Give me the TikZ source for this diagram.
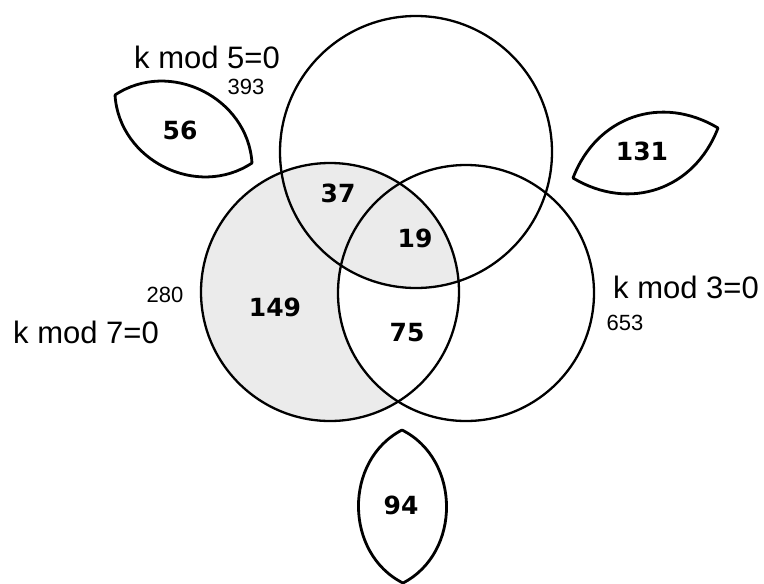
\documentclass[tikz,border=0pt]{standalone}
\usepackage{fontspec}
\setmainfont{Liberation Sans}
\newfontfamily\countfont{DejaVu Sans}

\definecolor{lightshade}{gray}{0.92}

% one unit is one point, y grows downwards
\tikzset{
  setcircle/.style={circle, draw, line width=2.3pt, inner sep=0pt},
  leaf/.style={draw, line width=2.8pt, line join=round, line cap=round},
  count/.style={font=\countfont\bfseries\fontsize{25}{25}\selectfont},
  setname/.style={font=\fontsize{31}{31}\selectfont},
  total/.style={font=\fontsize{22}{22}\selectfont},
}

\begin{document}
\begin{tikzpicture}[x=1pt, y=-1pt]
  \useasboundingbox (0,0) rectangle (764,584);

  \coordinate (c7) at (330,292);
  \coordinate (c5) at (416,152);
  \coordinate (c3) at (466,293);

  % shading: all of mod 7 except the part that is in mod 3 but not in mod 5
  \fill[lightshade] (c7) circle (129);
  \begin{scope}
    \clip (c3) circle (128);
    \fill[white] (c7) circle (129);
    \clip (c5) circle (136);
    \fill[lightshade] (c7) circle (129);
  \end{scope}

  % the three sets
  \node[setcircle, minimum size=258pt] (mod7) at (c7) {};
  \node[setcircle, minimum size=272pt] (mod5) at (c5) {};
  \node[setcircle, minimum size=256pt] (mod3) at (c3) {};

  % counts inside the circles
  \node[count] (n37)  at (338,193) {37};
  \node[count] (n19)  at (415,238) {19};
  \node[count] (n149) at (275,307) {149};
  \node[count] (n75)  at (407,333) {75};

  % the leaves outside: two tips each, the bend sets how fat the leaf is
  \coordinate (leaf56-a)  at (115,95);
  \coordinate (leaf56-b)  at (252,163);
  \coordinate (leaf131-a) at (573,178);
  \coordinate (leaf131-b) at (718,128);
  \coordinate (leaf94-a)  at (402,430);
  \coordinate (leaf94-b)  at (403,583);
  \foreach \t/\b in {56/60, 131/50, 94/63}
    \draw[leaf] (leaf\t-a) to[bend left=\b, looseness=1.1] (leaf\t-b)
                           to[bend left=\b, looseness=1.1] (leaf\t-a);

  \node[count] (n56)  at (180,130) {56};
  \node[count] (n131) at (642,151) {131};
  \node[count] (n94)  at (401,505) {94};

  % set names and their totals
  \node[setname] (name5) at (207,57)  {k mod 5=0};
  \node[total]   (tot5)  at (246,87)  {393};
  \node[setname] (name7) at (86,332)  {k mod 7=0};
  \node[total]   (tot7)  at (165,295) {280};
  \node[setname] (name3) at (686,287) {k mod 3=0};
  \node[total]   (tot3)  at (625,323) {653};
\end{tikzpicture}
\end{document}
